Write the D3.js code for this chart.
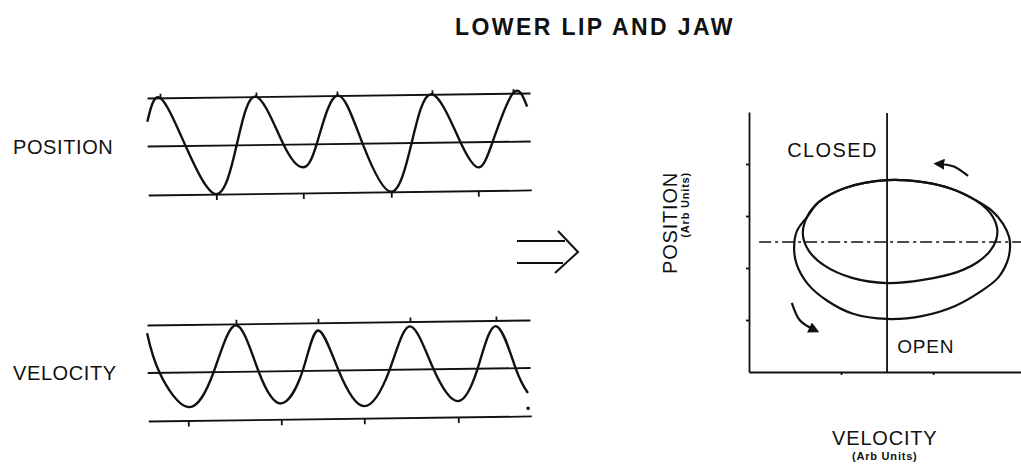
<!DOCTYPE html>
<html lang="en">
<head>
  <meta charset="UTF-8">
  <title>Lower Lip and Jaw</title>
  <style>
    body, html { margin: 0; padding: 0; background: #fff; }
    svg { display: block; font-family: "Liberation Sans", Arial, sans-serif; }
  </style>
</head>
<body>
  <svg id="svg" width="1021" height="466"></svg>

  <script src="https://d3js.org/d3.v7.min.js"></script>
  <script>
    // position trace (time in px-like units, value: +1 top line, -1 bottom line)
    const posTime  = [0, 13, 38, 68, 89, 109, 136, 155, 169, 190, 215, 243, 264, 285, 313, 331, 345, 366, 380]
    const posValue = [0.51, 1.0, 0, -1.0, 0, 1.0, 0, -0.47, 0, 1.0, 0, -1.0, 0, 1.0, 0, -0.52, 0, 1.0, 0.72]
    const posTopTicks = [13, 109, 190, 285, 366]
    const posBottomTicks = [68, 155, 243, 330]

    // velocity trace
    const velTime  = [0, 12, 40, 66, 89, 111, 133, 155, 171, 191, 216, 242, 263, 286, 310, 330, 349, 368, 380]
    const velValue = [0.83, 0, -0.72, 0, 0.97, 0, -0.67, 0, 0.84, 0, -0.75, 0, 0.9, 0, -0.67, 0, 0.88, 0, -0.52]
    const velTopTicks = [89, 171, 263, 349]
    const velBottomTicks = [40, 133, 216, 310]
    const velDot = [380, -0.84]

    // phase plane loops (velocity, position), arbitrary units
    const innerVel = [0, 0.78, 1.41, 1.91, 2.24, 2.39, 2.37, 2.24, 1.98, 1.52, 0.78, 0, -0.76, -1.35, -1.70, -1.83, -1.74, -1.48, -0.91]
    const innerPos = [1.19, 1.15, 1.02, 0.81, 0.56, 0.27, 0.04, -0.17, -0.38, -0.58, -0.73, -0.79, -0.69, -0.46, -0.17, 0.15, 0.48, 0.77, 1.04]
    const outerVel = [0, 0.78, 1.41, 1.91, 2.28, 2.52, 2.65, 2.67, 2.61, 2.41, 2.02, 1.48, 0.78, 0, -0.74, -1.30, -1.72, -1.96, -2.02, -1.96, -1.74, -1.48, -0.91]
    const outerPos = [1.19, 1.15, 1.02, 0.81, 0.60, 0.35, 0.10, -0.13, -0.38, -0.69, -0.96, -1.23, -1.42, -1.48, -1.38, -1.13, -0.81, -0.44, -0.12, 0.21, 0.48, 0.77, 1.04]
    const phaseYTicks = [-1.5, -0.5, 0.5, 1.5]
    const phaseXTicks = [-1, 1]

    const svg = d3.select('#svg')
    const ink = '#111'

    svg.append('text')
      .attr('x', 595).attr('y', 35)
      .attr('text-anchor', 'middle')
      .attr('font-size', 23).attr('font-weight', 'bold')
      .attr('letter-spacing', 2.4)
      .attr('fill', ink)
      .text('LOWER LIP AND JAW')

    // time panels, slightly tilted like the scanned original
    function drawTrace(y0, h, times, values, topTicks, bottomTicks, label) {
      const g = svg.append('g')
        .attr('transform', `translate(147,${y0}) rotate(-0.75)`)
      const x = d3.scaleLinear().domain([0, 383]).range([0, 383])
      const y = d3.scaleLinear().domain([-1, 1]).range([h, 0])

      g.append('g')
        .call(d3.axisTop(x).tickValues(topTicks).tickSize(4).tickSizeOuter(0).tickFormat(''))
      g.append('g').attr('transform', `translate(0,${y(-1)})`)
        .call(d3.axisBottom(x).tickValues(bottomTicks).tickSize(6).tickSizeOuter(0).tickFormat(''))
      g.selectAll('.domain, .tick line').attr('stroke', ink).attr('stroke-width', 1.8)

      g.append('line')
        .attr('x1', x(0)).attr('x2', x(383))
        .attr('y1', y(0)).attr('y2', y(0))
        .attr('stroke', ink).attr('stroke-width', 1.8)

      const linegen = d3.line()
        .x(d => x(d[0]))
        .y(d => y(d[1]))
        .curve(d3.curveNatural)

      g.append('path')
        .attr('d', linegen(d3.zip(times, values)))
        .attr('fill', 'none')
        .attr('stroke', ink)
        .attr('stroke-width', 2.4)

      svg.append('text')
        .attr('x', 13).attr('y', y0 + h / 2 + 7)
        .attr('font-size', 20).attr('letter-spacing', 0.6)
        .attr('fill', ink)
        .text(label)
      return { g, x, y }
    }

    drawTrace(98, 97, posTime, posValue, posTopTicks, posBottomTicks, 'POSITION')
    const vel = drawTrace(325, 96, velTime, velValue, velTopTicks, velBottomTicks, 'VELOCITY')
    vel.g.append('circle')
      .attr('cx', vel.x(velDot[0])).attr('cy', vel.y(velDot[1]))
      .attr('r', 1.8).attr('fill', ink)

    // hollow double arrow between the panels
    svg.append('path')
      .attr('d', 'M517,241 H565 M517,263 H563 M558,231 L578,252 L555,273')
      .attr('fill', 'none').attr('stroke', ink).attr('stroke-width', 2)

    // phase plane
    const px = d3.scaleLinear().domain([-3, 2.91]).range([749, 1021])
    const py = d3.scaleLinear().domain([-2.5, 2.5]).range([372, 112])

    svg.append('g').attr('transform', `translate(${px(-3)},0)`)
      .call(d3.axisLeft(py).tickValues(phaseYTicks).tickSize(3).tickSizeOuter(0).tickFormat(''))
    svg.append('g').attr('transform', `translate(0,${py(-2.5)})`)
      .call(d3.axisBottom(px).tickValues(phaseXTicks).tickSize(3).tickSizeOuter(0).tickFormat(''))
    svg.selectAll('.domain, .tick line').attr('stroke', ink).attr('stroke-width', 1.8)

    svg.append('line')
      .attr('x1', px(0)).attr('x2', px(0))
      .attr('y1', py(2.48)).attr('y2', py(-2.5))
      .attr('stroke', ink).attr('stroke-width', 1.8)

    svg.append('line')
      .attr('x1', px(-2.78)).attr('x2', px(2.91))
      .attr('y1', py(0)).attr('y2', py(0))
      .attr('stroke', ink).attr('stroke-width', 1.5)
      .attr('stroke-dasharray', '12,4,3,4')

    const loopgen = d3.line()
      .x(d => px(d[0]))
      .y(d => py(d[1]))
      .curve(d3.curveCatmullRomClosed.alpha(0.5))

    svg.append('path')
      .attr('d', loopgen(d3.zip(outerVel, outerPos)))
      .attr('fill', 'none').attr('stroke', ink).attr('stroke-width', 2.2)
    svg.append('path')
      .attr('d', loopgen(d3.zip(innerVel, innerPos)))
      .attr('fill', 'none').attr('stroke', ink).attr('stroke-width', 2.2)

    // direction arrows
    svg.append('defs').append('marker')
      .attr('id', 'head')
      .attr('viewBox', '0 0 10 10')
      .attr('refX', 4).attr('refY', 5)
      .attr('markerWidth', 5).attr('markerHeight', 5)
      .attr('orient', 'auto')
      .append('path').attr('d', 'M0,0 L10,5 L0,10 z').attr('fill', ink)

    const arrows = [
      [[1.76, 1.27], [1.45, 1.45], [1.15, 1.5]],
      [[-2.07, -1.17], [-1.9, -1.5], [-1.6, -1.68]]
    ]
    const arrowgen = d3.line().x(d => px(d[0])).y(d => py(d[1])).curve(d3.curveNatural)
    arrows.forEach(a => {
      svg.append('path')
        .attr('d', arrowgen(a))
        .attr('fill', 'none').attr('stroke', ink).attr('stroke-width', 2.2)
        .attr('marker-end', 'url(#head)')
    })

    svg.append('text')
      .attr('x', px(-0.2)).attr('y', py(1.63))
      .attr('text-anchor', 'end')
      .attr('font-size', 20).attr('letter-spacing', 1.4).attr('fill', ink)
      .text('CLOSED')
    svg.append('text')
      .attr('x', px(0.22)).attr('y', py(-2.14))
      .attr('font-size', 19).attr('letter-spacing', 0.8).attr('fill', ink)
      .text('OPEN')

    // axis titles
    const yTitle = svg.append('text')
      .attr('transform', `translate(677,172) rotate(-90)`)
      .attr('text-anchor', 'end').attr('fill', ink)
    yTitle.append('tspan').attr('x', 0).attr('font-size', 20).attr('letter-spacing', 0.8).text('POSITION')
    yTitle.append('tspan').attr('x', 0).attr('dy', 12).attr('font-size', 11).attr('font-weight', 'bold').attr('letter-spacing', 0.8).text('(Arb Units)')

    const xTitle = svg.append('text')
      .attr('transform', `translate(${px(-0.05)},445)`)
      .attr('text-anchor', 'middle').attr('fill', ink)
    xTitle.append('tspan').attr('x', 0).attr('font-size', 20).attr('letter-spacing', 0.8).text('VELOCITY')
    xTitle.append('tspan').attr('x', 0).attr('dy', 15).attr('font-size', 11).attr('font-weight', 'bold').attr('letter-spacing', 0.8).text('(Arb Units)')
  </script>
</body>
</html>
